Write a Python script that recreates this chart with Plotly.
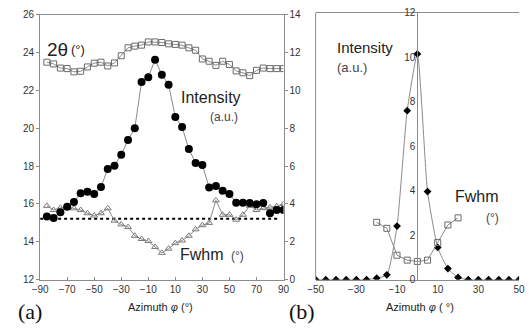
import plotly.graph_objects as go

# ---------------- data: panel (a) ----------------
azim_a = list(range(-85, 91, 5))
two_theta = [23.49, 23.40, 23.18, 23.15, 22.98, 23.01, 23.24, 23.44, 23.49, 23.29,
             23.45, 23.83, 24.25, 24.34, 24.39, 24.56, 24.56, 24.53, 24.46, 24.43,
             24.39, 24.25, 24.12, 23.66, 23.54, 23.32, 23.54, 23.37, 23.03, 22.93,
             22.78, 23.06, 23.18, 23.15, 23.15, 23.15]
intensity_a = [3.34, 3.26, 3.56, 3.85, 4.10, 4.57, 4.65, 4.53, 4.90, 5.85,
               6.02, 6.60, 7.38, 8.00, 10.44, 10.69, 11.62, 10.83, 10.30, 8.60,
               8.06, 6.90, 6.17, 6.06, 4.87, 4.95, 4.70, 4.53, 4.07, 4.07,
               4.05, 3.98, 4.05, 3.51, 3.68, 3.68]
fwhm_a = [3.90, 3.68, 3.80, 3.85, 3.77, 3.68, 3.51, 3.39, 3.51, 3.77,
          3.12, 2.92, 2.78, 2.32, 2.15, 2.04, 1.73, 1.42, 1.64, 1.93,
          2.07, 2.32, 2.66, 2.88, 3.00, 4.19, 3.43, 3.43, 3.17, 3.43,
          3.90, 3.68, 3.78, 3.82, 3.88, 4.00]
ref_x = [-90, 86]
ref_y = [3.22, 3.22]

# ---------------- data: panel (b) ----------------
azim_b = list(range(-50, 51, 5))
intensity_b = [0, 0, 0, 0, 0, 0, 0.07, 0.22, 2.41, 7.6, 10.15, 3.96, 1.45, 0.5, 0.1,
               0, 0, 0, 0, 0, 0]
azim_bf = [-20, -15, -10, -5, 0, 5, 10, 15, 20]
fwhm_b = [2.58, 2.31, 1.10, 0.88, 0.82, 0.88, 1.67, 2.46, 2.78]

xticks_a = [-90, -70, -50, -30, -10, 10, 30, 50, 70, 90]
xticks_b = [-50, -30, -10, 10, 30, 50]

W, H = 529, 331
def PX(x):
    return x / W
def PY(y):
    return 1 - y / H

AX = "#8c8c8c"
TXT = "#333333"
LINE = "#8a8a8a"
FONT = "Liberation Sans, Arial, sans-serif"

fig = go.Figure()

# panel a
fig.add_trace(go.Scatter(x=azim_a, y=two_theta, xaxis="x", yaxis="y", mode="lines+markers",
                         line=dict(color=LINE, width=1),
                         marker=dict(symbol="square-open", size=6, color="#6a6a6a", line=dict(width=1))))
fig.add_trace(go.Scatter(x=ref_x, y=ref_y, xaxis="x", yaxis="y2", mode="lines",
                         line=dict(color="black", width=2, dash="dot")))
fig.add_trace(go.Scatter(x=azim_a, y=fwhm_a, xaxis="x", yaxis="y2", mode="lines+markers",
                         line=dict(color=LINE, width=1),
                         marker=dict(symbol="triangle-up-open", size=6, color="#7a7a7a", line=dict(width=1))))
fig.add_trace(go.Scatter(x=azim_a, y=intensity_a, xaxis="x", yaxis="y2", mode="lines+markers",
                         line=dict(color=LINE, width=1),
                         marker=dict(symbol="circle", size=8, color="black")))

# panel b
fig.add_trace(go.Scatter(x=azim_b, y=intensity_b, xaxis="x2", yaxis="y3", mode="lines+markers",
                         line=dict(color=LINE, width=1, shape="spline", smoothing=0.5),
                         marker=dict(symbol="diamond", size=6, color="black")))
fig.add_trace(go.Scatter(x=azim_bf, y=fwhm_b, xaxis="x2", yaxis="y3", mode="lines+markers",
                         line=dict(color=LINE, width=1),
                         marker=dict(symbol="square-open", size=6, color="#6a6a6a", line=dict(width=1))))

tickfont = dict(family=FONT, size=10, color=TXT)
dom_a_x = [PX(33), PX(283)]
dom_a_y = [PY(284), PY(9)]
dom_b_x = [PX(316), PX(525)]
dom_b_y = [PY(284), PY(7)]

fig.update_layout(
    width=W, height=H, margin=dict(l=0, r=0, t=0, b=0),
    paper_bgcolor="white", plot_bgcolor="white", showlegend=False,
    xaxis=dict(domain=dom_a_x, anchor="y", range=[-90, 90], tickvals=xticks_a,
               showgrid=False, zeroline=False, showline=True, linecolor=AX, mirror=True,
               ticks="inside", ticklen=3, tickcolor=AX, tickfont=tickfont),
    yaxis=dict(domain=dom_a_y, anchor="x", range=[12, 26], dtick=2,
               showgrid=False, zeroline=False, showline=True, linecolor=AX,
               ticks="outside", ticklen=3, tickcolor=AX, tickfont=tickfont),
    yaxis2=dict(overlaying="y", anchor="x", side="right", range=[0, 14], dtick=2,
                showgrid=False, zeroline=False, showline=True, linecolor=AX,
                ticks="outside", ticklen=3, tickcolor=AX, tickfont=tickfont),
    xaxis2=dict(domain=dom_b_x, anchor="y3", range=[-50, 50], tickvals=xticks_b,
                showgrid=False, zeroline=False, showline=True, linecolor=AX, mirror=True,
                ticks="", tickfont=tickfont),
    yaxis3=dict(domain=dom_b_y, anchor="free", position=(dom_b_x[0] + dom_b_x[1]) / 2,
                range=[0, 12], dtick=2, side="left",
                showgrid=False, zeroline=False, showline=True, linecolor=AX,
                ticks="", tickfont=tickfont),
    yaxis4=dict(overlaying="y3", anchor="x2", side="right", range=[0, 12], dtick=2,
                showgrid=False, zeroline=False, showline=True, linecolor=AX,
                ticks="inside", ticklen=3, tickcolor=AX, showticklabels=False),
)

fig.add_shape(type="line", xref="paper", yref="paper", x0=dom_b_x[0], x1=dom_b_x[0],
              y0=dom_b_y[0], y1=dom_b_y[1], line=dict(color=AX, width=1))

def ann(text, x, y, size, family=FONT, color="#222222", xanchor="center"):
    fig.add_annotation(text=text, x=PX(x), y=PY(y), xref="paper", yref="paper",
                       showarrow=False, xanchor=xanchor, yanchor="middle",
                       font=dict(family=family, size=size, color=color))

# panel a labels
ann("2θ", 38, 45, 19, xanchor="left")
ann("(°)", 63, 45, 13, xanchor="left")
ann("Intensity", 176, 95, 16, xanchor="left")
ann("(a.u.)", 205, 115, 12, color="#444444", xanchor="left")
ann("Fwhm", 175, 258, 16, xanchor="left")
ann("(°)", 227, 259, 12, color="#444444", xanchor="left")
ann("Azimuth <i>φ</i> (°)", 157, 312, 11)
ann("(a)", 23, 317, 22, family="Liberation Serif, Times New Roman, serif", color="#111111")

# panel b labels
ann("Intensity", 336, 43, 15, xanchor="left")
ann("(a.u.)", 336, 64, 13, color="#444444", xanchor="left")
ann("Fwhm", 457, 198, 16, xanchor="left")
ann("(°)", 489, 220, 12, color="#444444", xanchor="left")
ann("Azimuth <i>φ</i> ( °)", 423, 312, 11)
ann("(b)", 302, 317, 22, family="Liberation Serif, Times New Roman, serif", color="#111111")

fig.write_html("out.html")
